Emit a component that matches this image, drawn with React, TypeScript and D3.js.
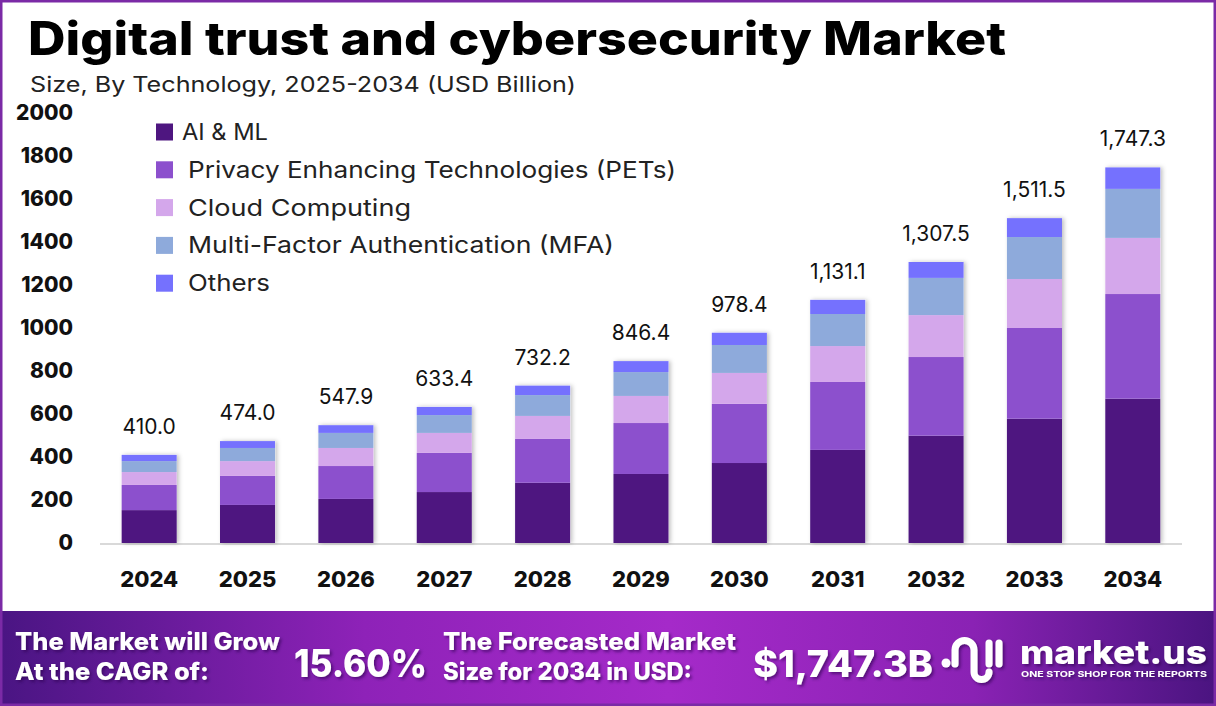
import React from 'react';
import * as d3 from 'd3';

const years = ['2024', '2025', '2026', '2027', '2028', '2029', '2030', '2031', '2032', '2033', '2034'];
const totals = [410.0, 474.0, 547.9, 633.4, 732.2, 846.4, 978.4, 1131.1, 1307.5, 1511.5, 1747.3];
const aiMl = [153, 177, 205, 237, 280, 321, 372, 433, 499, 578, 671];
const pets = [117, 135, 153, 182, 204, 237, 275, 316, 366, 422, 487];
const cloud = [60, 69, 84, 93, 107, 126, 144, 167, 195, 228, 261];
const mfa = [51, 61, 70, 83, 97, 111, 130, 149, 173, 195, 228];
const others = [29, 32, 36, 38, 44, 51, 57, 66, 74, 88, 100];

const seriesNames = [
  'AI & ML',
  'Privacy Enhancing Technologies (PETs)',
  'Cloud Computing',
  'Multi-Factor Authentication (MFA)',
  'Others',
];
const seriesKeys = ['ai', 'pets', 'cloud', 'mfa', 'others'];
const colors = ['#4e1680', '#8c50cd', '#d4a7eb', '#8eaadb', '#7571fe'];
const legendWidths = [86, 488, 223, 426, 82];
const yTicks = [0, 200, 400, 600, 800, 1000, 1200, 1400, 1600, 1800, 2000];

const W = 1216;
const H = 706;

const App: React.FC = () => {
  const rows = years.map((y, i) => ({
    year: y,
    ai: aiMl[i],
    pets: pets[i],
    cloud: cloud[i],
    mfa: mfa[i],
    others: others[i],
  }));

  const x = d3.scaleBand<string>().domain(years).range([100, 1182]).paddingInner(0.44).paddingOuter(0.22);
  const y = d3.scaleLinear().domain([0, 2000]).range([543, 113]);
  const stack = d3.stack<any>().keys(seriesKeys);
  const layers = stack(rows);
  const top = layers[layers.length - 1];
  const fmt = d3.format(',.1f');

  const font = 'Inter, "Open Sans", sans-serif';

  return (
    <svg width={W} height={H} style={{ position: 'absolute', left: 0, top: 0 }} fontFamily={font}>
      <defs>
        <filter id="barShadow" x="-20%" y="-5%" width="140%" height="110%">
          <feDropShadow dx="2" dy="0" stdDeviation="2" floodColor="#000" floodOpacity="0.25" />
        </filter>
        <filter id="txtShadow" x="-5%" y="-30%" width="110%" height="160%">
          <feDropShadow dx="2" dy="2" stdDeviation="1.5" floodColor="#2a0050" floodOpacity="0.6" />
        </filter>
        <linearGradient id="banner" x1="0" x2="1" y1="0" y2="0">
          <stop offset="0" stopColor="#4a1583" />
          <stop offset="0.3" stopColor="#8e22b8" />
          <stop offset="0.55" stopColor="#a52ac9" />
          <stop offset="0.8" stopColor="#8a22b4" />
          <stop offset="1" stopColor="#4a1480" />
        </linearGradient>
      </defs>

      <rect x={0} y={0} width={W} height={H} fill="#fff" />

      {/* title */}
      <text x={28} y={55} fontSize={46} fontWeight={800} fill="#000" textLength={978} lengthAdjust="spacingAndGlyphs">
        Digital trust and cybersecurity Market
      </text>
      <text x={30} y={92} fontSize={21} fill="#222" textLength={546} lengthAdjust="spacingAndGlyphs">
        Size, By Technology, 2025-2034 (USD Billion)
      </text>

      {/* y axis labels */}
      {yTicks.map((t) => (
        <text key={t} x={73} y={y(t)} dy="0.35em" textAnchor="end" fontSize={21} fontWeight={800} fill="#111">
          {t}
        </text>
      ))}

      {/* baseline */}
      <line x1={100} x2={1182} y1={544} y2={544} stroke="#d9d9d9" strokeWidth={2} />

      {/* bar shadows */}
      {years.map((yr, i) => (
        <rect
          key={'sh' + yr}
          x={x(yr)}
          y={y(top[i][1])}
          width={x.bandwidth()}
          height={y(0) - y(top[i][1])}
          fill="#fff"
          filter="url(#barShadow)"
        />
      ))}
      {layers.map((layer, li) => (
        <g key={seriesKeys[li]} fill={colors[li]}>
          {layer.map((d, i) => (
            <rect
              key={years[i]}
              x={x(years[i])}
              y={y(d[1])}
              width={x.bandwidth()}
              height={y(d[0]) - y(d[1])}
            />
          ))}
        </g>
      ))}

      {/* value labels */}
      {years.map((yr, i) => (
        <text
          key={'v' + yr}
          x={(x(yr) as number) + x.bandwidth() / 2}
          y={y(top[i][1]) - 21}
          textAnchor="middle"
          fontSize={21}
          fill="#111"
        >
          {fmt(totals[i])}
        </text>
      ))}

      {/* x labels */}
      {years.map((yr) => (
        <text
          key={'x' + yr}
          x={(x(yr) as number) + x.bandwidth() / 2}
          y={587}
          textAnchor="middle"
          fontSize={22}
          fontWeight={800}
          fill="#111"
        >
          {yr}
        </text>
      ))}

      {/* legend */}
      {seriesNames.map((name, i) => (
        <g key={name} transform={`translate(156, ${132 + i * 37.8})`}>
          <rect x={0} y={-8.5} width={17} height={17} fill={colors[i]} />
          <text
            x={i === 0 ? 26 : 32}
            y={0}
            dy="0.35em"
            fontSize={23}
            fill="#222"
            textLength={legendWidths[i]}
            lengthAdjust="spacingAndGlyphs"
          >
            {name}
          </text>
        </g>
      ))}

      {/* banner */}
      <rect x={0} y={611} width={W} height={H - 611} fill="url(#banner)" />
      <g fill="#fff" fontWeight={800} filter="url(#txtShadow)">
        <text x={15} y={650} fontSize={24} textLength={265} lengthAdjust="spacingAndGlyphs">The Market will Grow</text>
        <text x={15} y={680} fontSize={24} textLength={194} lengthAdjust="spacingAndGlyphs">At the CAGR of:</text>
        <text x={294} y={677} fontSize={38} textLength={133} lengthAdjust="spacingAndGlyphs">15.60%</text>
        <text x={443} y={650} fontSize={24} textLength={293} lengthAdjust="spacingAndGlyphs">The Forecasted Market</text>
        <text x={443} y={680} fontSize={24} textLength={249} lengthAdjust="spacingAndGlyphs">Size for 2034 in USD:</text>
        <text x={753} y={677} fontSize={37} textLength={180} lengthAdjust="spacingAndGlyphs">$1,747.3B</text>
      </g>

      {/* logo */}
      <g filter="url(#txtShadow)">
        <circle cx={946} cy={663} r={4.5} fill="#fff" />
        <path
          d="M955 664 V650 a9.5 9.5 0 0 1 19 0 V672 a7.5 7.5 0 0 0 15 0"
          fill="none"
          stroke="#fff"
          strokeWidth={7}
          strokeLinecap="round"
        />
        <line x1={989} x2={989} y1={643} y2={664} stroke="#fff" strokeWidth={7} strokeLinecap="round" />
        <line x1={999} x2={999} y1={643} y2={664} stroke="#fff" strokeWidth={7} strokeLinecap="round" />
        <text x={1020} y={664} fontSize={33} fontWeight={800} fill="#fff" textLength={187} lengthAdjust="spacingAndGlyphs">
          market.us
        </text>
        <text x={1021} y={677} fontSize={7.5} fontWeight={700} fill="#fff" textLength={186} lengthAdjust="spacingAndGlyphs">
          ONE STOP SHOP FOR THE REPORTS
        </text>
      </g>

      {/* frame */}
      <rect x={1} y={1} width={W - 2} height={H - 2} fill="none" stroke="#7b2aa6" strokeWidth={3} />
    </svg>
  );
};

export default App;
